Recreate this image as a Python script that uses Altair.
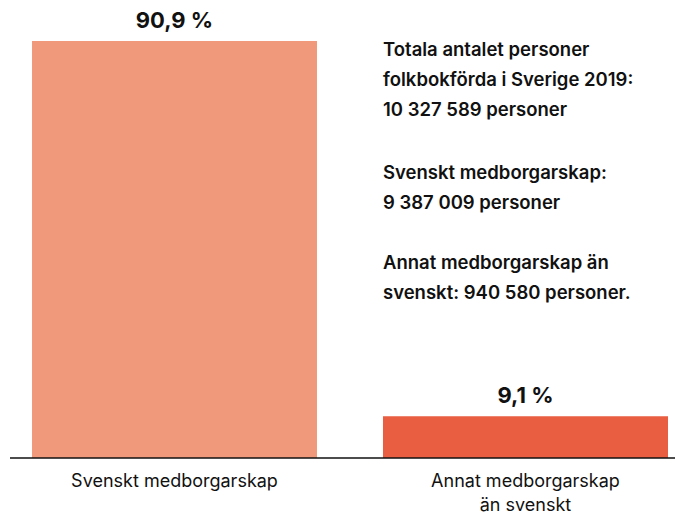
import altair as alt
import pandas as pd

categories = ["Svenskt medborgarskap", "Annat medborgarskap\nän svenskt"]
shares = [90.9, 9.1]
share_labels = ["90,9 %", "9,1 %"]
colors = ["#F19A7B", "#E95D40"]
paragraphs = [
    "Totala antalet personer\nfolkbokförda i Sverige 2019:\n10 327 589 personer",
    "Svenskt medborgarskap:\n9 387 009 personer",
    "Annat medborgarskap än\nsvenskt: 940 580 personer.",
]
paragraph_y = [42, 165, 255]

df = pd.DataFrame({"cat": categories, "share": shares, "label": share_labels, "color": colors})

FONT = "Inter"
W, H = 667, 508
BASE = 450

x = alt.X("cat:N", sort=categories, axis=None,
          scale=alt.Scale(range=[24, 660], paddingInner=0.188, paddingOuter=0))
yscale = alt.Scale(domain=[0, 98.1], nice=False, zero=True, range=[BASE, 0])
y = alt.Y("share:Q", axis=None, scale=yscale)

bars = alt.Chart(df).mark_bar().encode(
    x=x, y=y, color=alt.Color("color:N", scale=None)
)

values = alt.Chart(df).mark_text(
    font=FONT, fontSize=22, fontWeight="bold", baseline="bottom", dy=-8, color="#111"
).encode(x=x, y=y, text="label:N")

cat_labels = alt.Chart(df).mark_text(
    font=FONT, fontSize=18, baseline="middle", lineBreak="\n", lineHeight=24, color="#111"
).encode(x=x, y=alt.value(BASE + 24), text="cat:N")

base = alt.Chart(pd.DataFrame({"v": [0]})).mark_rule(color="#111", strokeWidth=1.5).encode(
    y=alt.Y("v:Q", scale=yscale), x=alt.value(2), x2=alt.value(W)
)

notes = []
for txt, py in zip(paragraphs, paragraph_y):
    notes.append(alt.Chart(pd.DataFrame({"t": [txt]})).mark_text(
        font=FONT, fontSize=18.5, fontWeight=600, align="left", baseline="middle",
        lineBreak="\n", lineHeight=30, color="#111"
    ).encode(x=alt.value(375), y=alt.value(py), text="t:N"))

chart = alt.layer(bars, values, cat_labels, base, *notes).properties(
    width=W, height=H, autosize=alt.AutoSizeParams(type="none"), padding=0
).configure(background="white", view=alt.ViewConfig(stroke=None))

chart.save("out.html", embed_options={"renderer": "svg", "actions": False})
